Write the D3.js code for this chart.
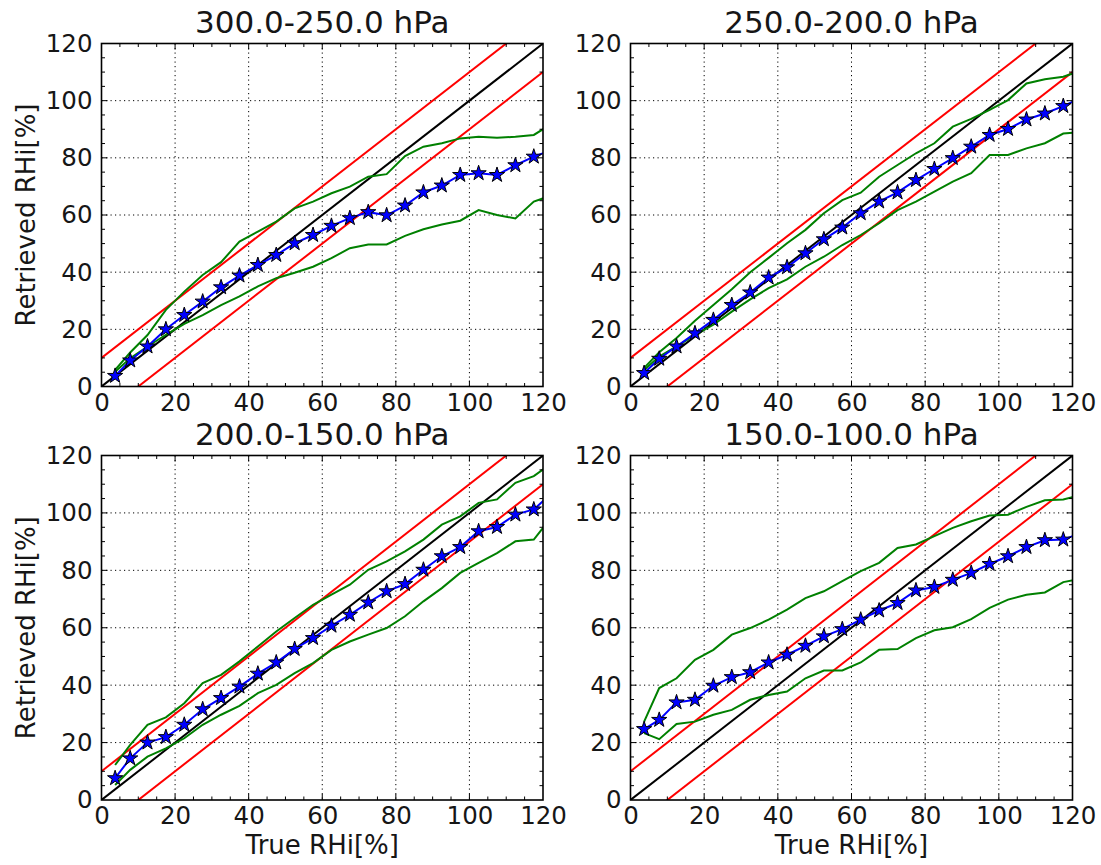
<!DOCTYPE html>
<html><head><meta charset="utf-8">
<script src="https://cdn.jsdelivr.net/npm/d3@7"></script>
<style>body{margin:0;background:#fff} svg{display:block}</style>
</head><body>
<script>
// ---- data ----
const trueRHi = [3.7, 7.8, 12.5, 17.5, 22.5, 27.5, 32.5, 37.5, 42.5, 47.5, 52.5, 57.5, 62.5, 67.5, 72.5, 77.5, 82.5, 87.5, 92.5, 97.5, 102.5, 107.5, 112.5, 117.5, 122.5];
const panelTitles = ["300.0-250.0 hPa", "250.0-200.0 hPa", "200.0-150.0 hPa", "150.0-100.0 hPa"];
const tickValues = [0, 20, 40, 60, 80, 100, 120];
const xLabel = "True RHi[%]";
const yLabel = "Retrieved RHi[%]";

const mean_300_250  = [3.7, 9.1, 14.0, 20.0, 25.0, 29.7, 34.7, 38.8, 42.5, 46.0, 50.1, 53.0, 56.2, 58.9, 61.0, 59.9, 63.3, 67.9, 70.3, 74.0, 74.6, 74.0, 77.4, 80.4, 82.8];
const upper_300_250 = [5.8, 11.9, 18.0, 26.8, 33.2, 39.0, 43.5, 50.7, 54.2, 57.7, 62.3, 64.7, 67.6, 69.9, 73.4, 74.3, 80.6, 83.9, 85.1, 86.8, 87.4, 87.0, 87.4, 88.0, 92.0];
const lower_300_250 = [5.2, 9.9, 14.0, 18.1, 21.9, 25.0, 28.5, 31.5, 35.0, 37.9, 39.8, 41.9, 44.9, 48.4, 49.7, 49.7, 52.7, 55.0, 56.7, 58.0, 61.7, 60.0, 58.8, 64.7, 66.9];

const mean_250_200  = [4.7, 9.7, 14.0, 18.6, 23.3, 28.5, 32.9, 38.1, 41.7, 46.6, 51.5, 55.6, 60.6, 64.7, 67.9, 72.2, 76.1, 79.9, 83.9, 88.0, 90.1, 93.4, 95.5, 98.1, 101.1];
const upper_250_200 = [6.5, 12.0, 17.0, 23.0, 28.5, 34.0, 40.0, 45.0, 50.1, 54.8, 60.6, 65.2, 67.8, 73.4, 77.5, 81.6, 85.1, 90.9, 93.6, 96.8, 100.2, 106.0, 107.5, 108.4, 110.6];
const lower_250_200 = [5.8, 10.5, 14.0, 18.0, 21.6, 26.2, 30.5, 34.4, 37.5, 41.9, 45.4, 49.5, 53.0, 57.1, 61.7, 64.7, 68.2, 71.7, 74.6, 81.0, 81.0, 83.3, 85.1, 88.5, 89.1];

const mean_200_150  = [7.6, 14.5, 20.0, 21.9, 26.2, 31.6, 35.5, 39.5, 44.0, 47.9, 52.6, 56.4, 60.7, 64.5, 68.8, 72.7, 75.2, 80.2, 84.9, 88.1, 93.6, 95.1, 99.4, 101.2, 107.0];
const upper_200_150 = [12.2, 19.2, 26.2, 28.8, 33.7, 40.7, 43.6, 48.3, 53.5, 58.7, 63.4, 68.0, 71.5, 75.0, 80.2, 83.1, 86.6, 90.7, 95.9, 98.8, 103.5, 104.7, 110.5, 112.8, 117.4];
const lower_200_150 = [5.2, 10.5, 15.1, 18.0, 21.5, 26.2, 29.7, 32.8, 37.2, 40.1, 44.2, 47.7, 52.3, 55.2, 57.6, 59.9, 64.0, 69.2, 73.8, 79.1, 82.6, 86.0, 90.1, 90.7, 98.9];

const mean_150_100  = [24.7, 27.9, 34.0, 34.9, 39.8, 42.8, 44.5, 47.9, 50.6, 53.7, 57.0, 59.5, 62.8, 66.0, 68.6, 73.0, 74.2, 76.7, 79.1, 82.2, 84.9, 88.1, 90.5, 90.7, 93.1];
const upper_150_100 = [27.3, 39.0, 42.4, 48.8, 52.3, 57.6, 59.9, 62.8, 66.3, 70.3, 72.7, 76.2, 79.7, 82.6, 87.8, 89.0, 91.9, 94.8, 97.1, 99.1, 99.4, 102.1, 104.4, 104.7, 106.3];
const lower_150_100 = [23.3, 21.2, 26.5, 27.3, 29.7, 31.4, 34.9, 36.6, 37.8, 42.4, 45.1, 45.1, 47.9, 52.3, 52.6, 56.4, 59.1, 60.2, 63.0, 66.9, 69.8, 71.5, 72.3, 75.9, 77.1];

const refOffsets = [0, 10, -10];
const refRange = [0, 120];

// ---- layout / style ----
const W = 1101, H = 865;
const boxes = [
  {l: 101.5, t: 43.5, w: 441.5, h: 343, xl: false, yl: true},
  {l: 630.5, t: 43.5, w: 442, h: 343, xl: false, yl: false},
  {l: 101.5, t: 455.5, w: 441.5, h: 344.5, xl: true, yl: true},
  {l: 630.5, t: 455.5, w: 442, h: 344.5, xl: true, yl: false}
];
const panels = [
  {mean: mean_300_250, upper: upper_300_250, lower: lower_300_250},
  {mean: mean_250_200, upper: upper_250_200, lower: lower_250_200},
  {mean: mean_200_150, upper: upper_200_150, lower: lower_200_150},
  {mean: mean_150_100, upper: upper_150_100, lower: lower_150_100}
];
const FONT = "'DejaVu Sans', sans-serif";
const TXT = "#161616";

const svg = d3.select("body").append("svg")
  .attr("width", W).attr("height", H)
  .style("font-family", FONT);
svg.append("rect").attr("width", W).attr("height", H).attr("fill", "#fff");

panels.forEach((p, i) => {
  const b = boxes[i];
  const x = d3.scaleLinear().domain([0, 120]).range([0, b.w]);
  const y = d3.scaleLinear().domain([0, 120]).range([b.h, 0]);
  const g = svg.append("g").attr("transform", `translate(${b.l},${b.t})`);

  const cid = "clip" + i;
  g.append("clipPath").attr("id", cid).append("rect")
    .attr("width", b.w).attr("height", b.h);

  // grid
  const grid = g.append("g").attr("stroke", "#000").attr("stroke-width", 1)
    .attr("stroke-dasharray", "1.2,3.3");
  tickValues.slice(1, -1).forEach(v => {
    grid.append("line").attr("x1", x(v)).attr("x2", x(v)).attr("y1", 0).attr("y2", b.h);
    grid.append("line").attr("y1", y(v)).attr("y2", y(v)).attr("x1", 0).attr("x2", b.w);
  });

  const plot = g.append("g").attr("clip-path", `url(#${cid})`);
  const line = d3.line().x(d => x(d[0])).y(d => y(d[1]));

  // reference lines
  refOffsets.forEach(off => {
    plot.append("path")
      .attr("d", line(refRange.map(v => [v, v + off])))
      .attr("fill", "none")
      .attr("stroke", off === 0 ? "#000" : "#ff0000")
      .attr("stroke-width", 2);
  });

  // green envelopes
  [p.upper, p.lower].forEach(arr => {
    plot.append("path")
      .attr("d", line(trueRHi.map((v, k) => [v, arr[k]])))
      .attr("fill", "none").attr("stroke", "#008000").attr("stroke-width", 2);
  });

  // mean line
  plot.append("path")
    .attr("d", line(trueRHi.map((v, k) => [v, p.mean[k]])))
    .attr("fill", "none").attr("stroke", "#0000ff").attr("stroke-width", 2);

  const star = d3.symbol().type(d3.symbolStar).size(72);
  plot.selectAll("path.star").data(trueRHi.map((v, k) => [v, p.mean[k]]))
    .join("path").attr("class", "star")
    .attr("transform", d => `translate(${x(d[0])},${y(d[1])})`)
    .attr("d", star)
    .attr("fill", "#0000ff").attr("stroke", "#000").attr("stroke-width", 1);

  // frame
  g.append("rect").attr("width", b.w).attr("height", b.h)
    .attr("fill", "none").attr("stroke", "#000").attr("stroke-width", 1.6);

  // ticks (inward, all sides), major every 20, minor every 5
  const tk = g.append("g").attr("stroke", "#000").attr("stroke-width", 1);
  d3.range(5, 120, 5).forEach(v => {
    const len = (v % 20 === 0) ? 6 : 3.5;
    tk.append("line").attr("x1", x(v)).attr("x2", x(v)).attr("y1", b.h).attr("y2", b.h - len);
    tk.append("line").attr("x1", x(v)).attr("x2", x(v)).attr("y1", 0).attr("y2", len);
    tk.append("line").attr("y1", y(v)).attr("y2", y(v)).attr("x1", 0).attr("x2", len);
    tk.append("line").attr("y1", y(v)).attr("y2", y(v)).attr("x1", b.w).attr("x2", b.w - len);
  });

  // tick labels via axes
  const ax = g.append("g").attr("transform", `translate(0,${b.h})`)
    .call(d3.axisBottom(x).tickValues(tickValues).tickSize(0).tickPadding(7).tickFormat(d3.format("d")));
  const ay = g.append("g")
    .call(d3.axisLeft(y).tickValues(tickValues).tickSize(0).tickPadding(9).tickFormat(d3.format("d")));
  [ax, ay].forEach(a => {
    a.select(".domain").remove();
    a.attr("font-family", FONT).attr("font-size", 24.5);
    a.selectAll("text").attr("fill", TXT);
  });

  // title
  g.append("text").attr("x", b.w / 2).attr("y", -11)
    .attr("text-anchor", "middle").attr("font-size", 31).attr("fill", TXT)
    .text(panelTitles[i]);

  if (b.xl) {
    g.append("text").attr("x", b.w / 2).attr("y", b.h + 54)
      .attr("text-anchor", "middle").attr("font-size", 26).attr("fill", TXT)
      .text(xLabel);
  }
  if (b.yl) {
    g.append("text")
      .attr("transform", `translate(${26 - b.l},${b.h / 2}) rotate(-90)`)
      .attr("text-anchor", "middle").attr("dominant-baseline", "central")
      .attr("font-size", 26).attr("fill", TXT)
      .text(yLabel);
  }
});
</script>
</body></html>
